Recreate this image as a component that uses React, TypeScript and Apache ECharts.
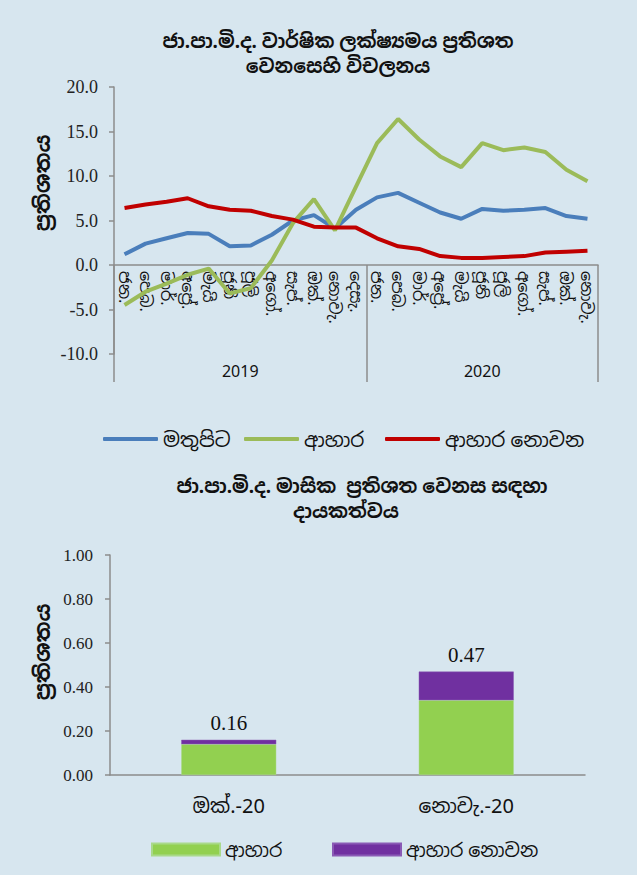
import React, { useEffect, useRef } from "react";
import * as echarts from "echarts";

const months = ["ජන.", "පෙබ.", "මාර්.", "අප්‍රේ.", "මැයි", "ජූනි", "ජූලි", "අගෝ.", "සැප්.", "ඔක්.", "නොවැ.", "දෙසැ."];
const years = ["2019", "2020"];
const yearMonthCounts = [12, 11];

const headline = [1.2, 2.4, 3.0, 3.6, 3.5, 2.1, 2.2, 3.4, 5.0, 5.6, 4.1, 6.2, 7.6, 8.1, 7.0, 5.9, 5.2, 6.3, 6.1, 6.2, 6.4, 5.5, 5.2];
const food = [-4.5, -3.0, -2.1, -1.1, -0.4, -3.2, -2.6, 0.5, 4.7, 7.4, 3.9, 8.8, 13.7, 16.4, 14.1, 12.2, 11.0, 13.7, 12.9, 13.2, 12.7, 10.7, 9.4];
const nonFood = [6.4, 6.8, 7.1, 7.5, 6.6, 6.2, 6.1, 5.5, 5.1, 4.3, 4.2, 4.2, 3.0, 2.1, 1.8, 1.0, 0.8, 0.8, 0.9, 1.0, 1.4, 1.5, 1.6];

const barCategories = ["ඔක්.-20", "නොවැ.-20"];
const foodContribution = [0.14, 0.34];
const nonFoodContribution = [0.02, 0.13];

const seriesNames = ["මතුපිට", "ආහාර", "ආහාර නොවන"];
const barSeriesNames = ["ආහාර ", "ආහාර නොවන "];

const topTitleLines = ["ජා.පා.මි.ද. වාර්ෂික ලක්ෂ්‍යමය ප්‍රතිශත", "වෙනසෙහි විචලනය"];
const bottomTitleLines = ["ජා.පා.මි.ද. මාසික  ප්‍රතිශත වෙනස සඳහා", "දායකත්වය"];

const SERIF = "'Liberation Serif', 'Times New Roman', serif";
const SANS = "'Noto Sans', 'Noto Sans Sinhala', 'DejaVu Sans', sans-serif";

export default function App() {
  const ref = useRef<HTMLDivElement>(null);
  useEffect(() => {
    document.body.style.margin = "0";
    const chart = echarts.init(ref.current!, null, { renderer: "svg" });

    const monthCats: string[] = [];
    yearMonthCounts.forEach((n) => {
      for (let i = 0; i < n; i++) monthCats.push(months[i]);
    });
    const total = yearMonthCounts.reduce((a, b) => a + b, 0);
    const sepValues: number[] = [0];
    let acc = 0;
    yearMonthCounts.forEach((n) => {
      acc += n;
      sepValues.push(acc);
    });
    const yearCenters: number[] = [];
    acc = 0;
    yearMonthCounts.forEach((n) => {
      yearCenters.push(acc + n / 2);
      acc += n;
    });
    const barTotals = foodContribution.map((v, i) => v + nonFoodContribution[i]);

    const axisGray = "#8c8c8c";
    const topGridHeight = 267;
    const zeroOffset = -Math.round((topGridHeight * 10) / 30);

    const topLegendLefts = [98, 239, 380];
    const bottomLegendLefts = [146, 327];
    const lineColors = ["#4a7ebb", "#9bbb59", "#c00000"];

    const legends: any[] = [];
    seriesNames.forEach((n, i) => {
      legends.push({
        data: [n],
        top: 424,
        left: topLegendLefts[i],
        icon: "roundRect",
        itemWidth: 55,
        itemHeight: 4,
        textStyle: { fontSize: 20, color: "#111", fontFamily: SANS },
      });
    });
    barSeriesNames.forEach((n, i) => {
      legends.push({
        data: [n],
        top: 835,
        left: bottomLegendLefts[i],
        icon: "rect",
        itemWidth: 68,
        itemHeight: 12,
        textStyle: { fontSize: 19, color: "#111", fontFamily: SANS },
      });
    });

    const titleStyle = { fontSize: 19, fontWeight: "bold", color: "#111", fontFamily: SANS, lineHeight: 19 };
    const titles: any[] = [];
    const topTitleTops = [31, 56];
    const bottomTitleTops = [476, 501];
    topTitleLines.forEach((t, i) => titles.push({ text: t, left: 338, top: topTitleTops[i], textAlign: "center", padding: 0, textStyle: titleStyle }));
    bottomTitleLines.forEach((t, i) => titles.push({ text: t, left: i === 0 ? 362 : 346, top: bottomTitleTops[i], textAlign: "center", padding: 0, textStyle: titleStyle }));

    chart.setOption({
      animation: false,
      backgroundColor: "#d7e6ef",
      title: titles,
      legend: legends,
      graphic: [
        {
          type: "text",
          x: 42,
          y: 183,
          rotation: Math.PI / 2,
          style: { text: "ප්‍රතිශතය", fontSize: 21, fontWeight: "bold", fill: "#111", fontFamily: SANS, textAlign: "center", textVerticalAlign: "middle" },
        },
        {
          type: "text",
          x: 42,
          y: 652,
          rotation: Math.PI / 2,
          style: { text: "ප්‍රතිශතය", fontSize: 21, fontWeight: "bold", fill: "#111", fontFamily: SANS, textAlign: "center", textVerticalAlign: "middle" },
        },
      ],
      grid: [
        { left: 114, top: 87, width: 484, height: topGridHeight },
        { left: 110, top: 555, width: 475, height: 220 },
      ],
      xAxis: [
        {
          type: "category",
          gridIndex: 0,
          data: monthCats,
          boundaryGap: true,
          position: "bottom",
          offset: zeroOffset,
          axisLine: { onZero: false, lineStyle: { color: axisGray, width: 1.5 } },
          axisTick: { show: false },
          axisLabel: {
            interval: 0,
            rotate: -90,
            fontSize: 16,
            color: "#111",
            fontFamily: SANS,
            margin: 6,
          },
          splitLine: { show: false },
        },
        {
          type: "value",
          gridIndex: 0,
          min: 0,
          max: total,
          position: "bottom",
          offset: 28,
          axisLine: { show: false, onZero: false },
          axisTick: { show: true, inside: true, length: 117, customValues: sepValues, lineStyle: { color: axisGray, width: 1.5 } },
          axisLabel: {
            show: true,
            inside: true,
            margin: 3,
            customValues: yearCenters,
            formatter: (v: number) => {
              const idx = yearCenters.findIndex((c) => Math.abs(c - v) < 1e-6);
              return idx >= 0 ? years[idx] : "";
            },
            fontSize: 16,
            color: "#111",
            fontFamily: SANS,
          },
          splitLine: { show: false },
        },
        {
          type: "category",
          gridIndex: 1,
          data: barCategories,
          axisLine: { lineStyle: { color: axisGray, width: 1.5 } },
          axisTick: { show: false },
          axisLabel: { fontSize: 20, color: "#111", fontFamily: SANS, margin: 20 },
        },
      ],
      yAxis: [
        {
          type: "value",
          gridIndex: 0,
          min: -10,
          max: 20,
          interval: 5,
          axisLine: { show: true, onZero: false, lineStyle: { color: axisGray, width: 1.5 } },
          axisTick: { show: true, length: 5, lineStyle: { color: axisGray, width: 1.5 } },
          axisLabel: { formatter: (v: number) => v.toFixed(1), fontSize: 18, color: "#222", fontFamily: SERIF, margin: 16 },
          splitLine: { show: false },
        },
        {
          type: "value",
          gridIndex: 1,
          min: 0,
          max: 1,
          interval: 0.2,
          axisLine: { show: true, lineStyle: { color: axisGray, width: 1.5 } },
          axisTick: { show: true, length: 5, lineStyle: { color: axisGray, width: 1.5 } },
          axisLabel: { formatter: (v: number) => v.toFixed(2), fontSize: 17, color: "#222", fontFamily: SERIF, margin: 17 },
          splitLine: { show: false },
        },
      ],
      series: [
        ...[headline, food, nonFood].map((d, i) => ({
          name: seriesNames[i],
          type: "line",
          xAxisIndex: 0,
          yAxisIndex: 0,
          data: d,
          symbol: "none",
          lineStyle: { color: lineColors[i], width: 4 },
          itemStyle: { color: lineColors[i] },
        })),
        {
          name: barSeriesNames[0],
          type: "bar",
          xAxisIndex: 2,
          yAxisIndex: 1,
          stack: "c",
          data: foodContribution,
          barWidth: "40%",
          itemStyle: { color: "#92d050", borderColor: "#a9d98a", borderWidth: 0.5 },
        },
        {
          name: barSeriesNames[1],
          type: "bar",
          xAxisIndex: 2,
          yAxisIndex: 1,
          stack: "c",
          data: nonFoodContribution,
          barWidth: "40%",
          itemStyle: { color: "#7030a0", borderColor: "#8a5ab5", borderWidth: 0.5 },
          label: {
            show: true,
            position: "top",
            distance: 6,
            formatter: (p: any) => barTotals[p.dataIndex].toFixed(2),
            fontSize: 21,
            color: "#111",
            fontFamily: SERIF,
          },
        },
      ],
    });
    return () => chart.dispose();
  }, []);
  return <div ref={ref} style={{ width: 637, height: 875 }} />;
}
